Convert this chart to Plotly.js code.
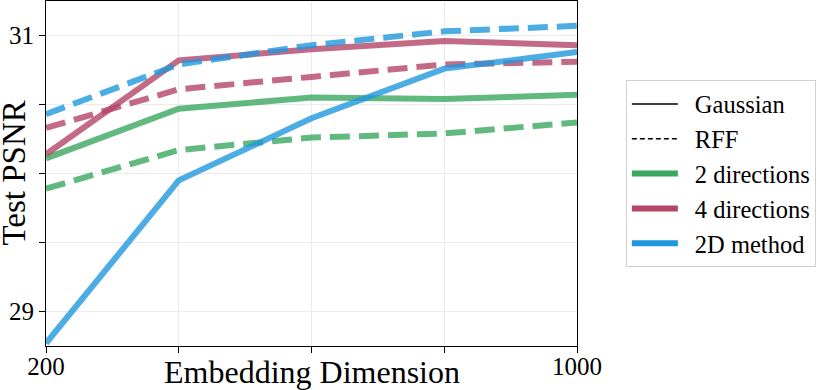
<!DOCTYPE html>
<html>
<head>
<meta charset="utf-8">
<script src="https://cdn.plot.ly/plotly-3.0.1.min.js"></script>
<style>
	html, body {margin: 0; padding: 0; background: #fff;}
	#chart {width: 831px; height: 390px;}
</style>
</head>
<body>
<div id="chart"></div>
<script>
const dims = [200, 400, 600, 800, 1000];

const dir2Gauss = [30.11, 30.47, 30.55, 30.54, 30.57];
const dir2Rff   = [29.89, 30.17, 30.26, 30.29, 30.37];
const dir4Gauss = [30.14, 30.82, 30.90, 30.96, 30.93];
const dir4Rff   = [30.33, 30.61, 30.70, 30.79, 30.81];
const m2dGauss  = [28.77, 29.95, 30.40, 30.76, 30.88];
const m2dRff    = [30.43, 30.79, 30.93, 31.03, 31.07];

const xTickLabels = ["200", "", "", "", "1000"];
const yTickVals = [29, 29.5, 30, 30.5, 31];
const yTickLabels = ["29", "", "", "", "31"];

const green = "#3ba75f";
const red = "#b44668";
const blue = "#1f97dd";

const serif = "Liberation Serif, DejaVu Serif, serif";

const line = (y, color, dash) => ({
	x: dims, y,
	type: "scatter", mode: "lines",
	line: {color, width: 6, dash: dash ? "20px,9px" : "solid"},
	opacity: 0.8,
	showlegend: false,
	hoverinfo: "skip"
});

// legend entries only, no data of their own
const legendOnly = (name, color, width, dash) => ({
	x: [null], y: [null],
	type: "scatter", mode: "lines",
	name,
	line: {color, width, dash: dash ? "5px,3px" : "solid"}
});

const data = [
	line(dir2Gauss, green, false),
	line(dir2Rff, green, true),
	line(dir4Gauss, red, false),
	line(dir4Rff, red, true),
	line(m2dGauss, blue, false),
	line(m2dRff, blue, true),
	legendOnly("Gaussian", "#000", 1.5, false),
	legendOnly("RFF", "#000", 1.5, true),
	legendOnly("2 directions", green, 6, false),
	legendOnly("4 directions", red, 6, false),
	legendOnly("2D method", blue, 6, false)
];

const layout = {
	width: 831, height: 390,
	margin: {l: 46, r: 254, t: 1, b: 44},
	paper_bgcolor: "#fff",
	plot_bgcolor: "#fff",
	font: {family: serif, color: "#000", size: 25},
	showlegend: true,
	legend: {
		x: 1.092, y: 0.7696, xanchor: "left", yanchor: "top",
		bordercolor: "#d0d0d0", borderwidth: 1,
		font: {family: serif, size: 24.5},
		itemwidth: 58,
		bgcolor: "#fff"
	},
	xaxis: {
		range: [200, 1000],
		tickvals: dims, ticktext: xTickLabels,
		ticks: "outside", ticklen: 6, tickcolor: "#000",
		ticklabelstandoff: -8,
		showline: true, linecolor: "#000", linewidth: 1, mirror: true,
		showgrid: true, gridcolor: "#ebebeb", gridwidth: 1,
		zeroline: false,
		tickfont: {size: 25}
	},
	yaxis: {
		range: [28.75, 31.25],
		tickvals: yTickVals, ticktext: yTickLabels,
		ticks: "outside", ticklen: 6, tickcolor: "#000",
		showline: true, linecolor: "#000", linewidth: 1, mirror: true,
		showgrid: true, gridcolor: "#ebebeb", gridwidth: 1,
		zeroline: false,
		tickfont: {size: 25}
	},
	annotations: [
		{
			text: "Embedding Dimension", showarrow: false,
			xref: "paper", yref: "paper", x: 0.5, y: -0.075,
			xanchor: "center", yanchor: "middle",
			font: {size: 32}
		},
		{
			text: "Test PSNR", showarrow: false, textangle: -90,
			xref: "paper", yref: "paper", x: -0.062, y: 0.5,
			xanchor: "center", yanchor: "middle",
			font: {size: 33}
		}
	]
};

Plotly.newPlot("chart", data, layout, {displayModeBar: false, staticPlot: true}).then(() => {
	// longer legend swatches, like the original
	document.querySelectorAll(".legend .legendlines path").forEach(p => p.setAttribute("d", "M5,0h46"));
});
</script>
</body>
</html>
